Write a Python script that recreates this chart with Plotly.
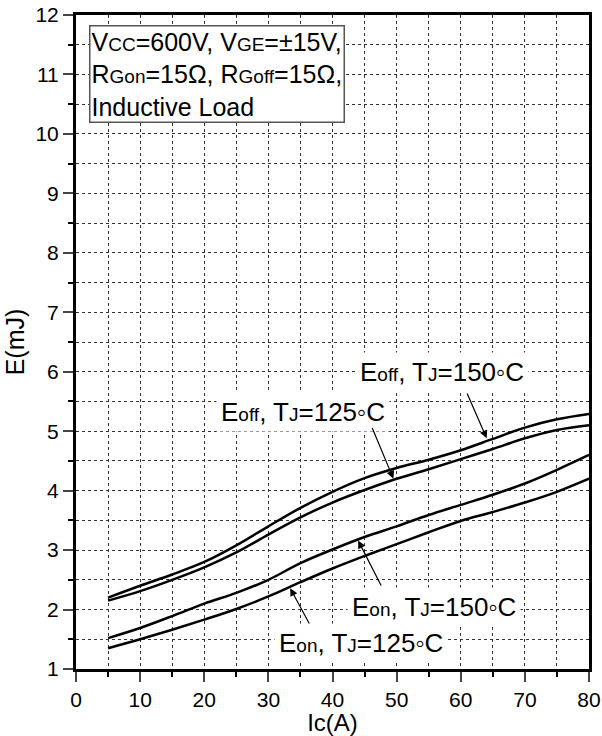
import plotly.graph_objects as go

# ---- data ----
ic = [5, 10, 15, 20, 25, 30, 35, 40, 45, 50, 55, 60, 65, 70, 75, 80]
eoff_150 = [2.20, 2.40, 2.59, 2.80, 3.08, 3.40, 3.71, 3.98, 4.21, 4.38, 4.52, 4.68, 4.87, 5.06, 5.20, 5.29]
eoff_125 = [2.15, 2.31, 2.50, 2.71, 2.96, 3.26, 3.55, 3.80, 4.01, 4.20, 4.36, 4.53, 4.70, 4.88, 5.02, 5.10]
eon_150 = [1.52, 1.69, 1.89, 2.10, 2.28, 2.50, 2.78, 3.01, 3.22, 3.40, 3.59, 3.76, 3.93, 4.12, 4.35, 4.60]
eon_125 = [1.35, 1.50, 1.66, 1.83, 2.01, 2.22, 2.46, 2.69, 2.90, 3.10, 3.30, 3.49, 3.64, 3.80, 3.98, 4.20]

x_ticks = [0, 10, 20, 30, 40, 50, 60, 70, 80]
y_ticks = [1, 2, 3, 4, 5, 6, 7, 8, 9, 10, 11, 12]

FONT = "Liberation Sans, Arial, sans-serif"

def small(t, size):
    return f'<span style="font-size:{size}px">{t}</span>'

fig = go.Figure()
for ys in [eoff_150, eoff_125, eon_150, eon_125]:
    fig.add_trace(go.Scatter(x=ic, y=ys, mode="lines", line=dict(color="black", width=2.5, shape="spline"),
                             showlegend=False, hoverinfo="skip"))

# labels: (text, x, y) and arrows: (x_from, y_from, x_to, y_to)
LS = 19
labels = [
    (f"E{small('off', LS)}, T{small('J', LS)}=150◦C", 57.1, 6.0),
    (f"E{small('off', LS)}, T{small('J', LS)}=125◦C", 35.4, 5.32),
    (f"E{small('on', LS)}, T{small('J', LS)}=150◦C", 55.8, 2.04),
    (f"E{small('on', LS)}, T{small('J', LS)}=125◦C", 44.4, 1.44),
]
arrows = [
    (60.9, 5.66, 64.05, 4.88),
    (46.1, 5.08, 49.5, 4.20),
    (47.7, 2.38, 44.0, 3.16),
    (36.5, 1.74, 33.4, 2.36),
]
for t, x, y in labels:
    fig.add_annotation(x=x, y=y, xref="x", yref="y", text=t, showarrow=False,
                       font=dict(family=FONT, size=26, color="black"), bgcolor="white", borderpad=4)
for x0, y0, x1, y1 in arrows:
    fig.add_annotation(x=x1, y=y1, ax=x0, ay=y0, xref="x", yref="y", axref="x", ayref="y",
                       text="", showarrow=True, arrowhead=2, arrowsize=1.3, arrowwidth=1.2, arrowcolor="black",
                       standoff=0, startstandoff=0)

BS = 19
box_text = (f"V{small('CC', BS)}=600V, V{small('GE', BS)}=±15V,<br>"
            f"R{small('Gon', BS)}=15Ω, R{small('Goff', BS)}=15Ω,<br>"
            "Inductive Load")
fig.add_annotation(x=0.0253, y=0.984, xref="paper", yref="paper", xanchor="left", yanchor="top",
                   text=box_text, showarrow=False, align="left",
                   font=dict(family=FONT, size=25, color="black"),
                   bgcolor="white", bordercolor="#555555", borderwidth=1.5, borderpad=1)

grid = dict(showgrid=True, gridcolor="#333333", griddash="dot", gridwidth=1)
minor_common = dict(ticks="outside", ticklen=5, tickwidth=2, tickcolor="black",
                    showgrid=True, gridcolor="#333333", griddash="dot", gridwidth=1)
fig.update_xaxes(range=[0, 80], tickvals=x_ticks, ticks="outside", ticklen=10, tickwidth=2,
                 showline=True, linewidth=3, linecolor="black", mirror=True, automargin=False,
                 tickfont=dict(family=FONT, size=21, color="black"),
                 title=dict(text="Ic(A)", font=dict(family=FONT, size=24, color="black"), standoff=4),
                 minor=dict(dtick=5, **minor_common),
                 zeroline=False, **grid)
fig.update_yaxes(range=[1, 12], tickvals=y_ticks, ticks="outside", ticklen=10, tickwidth=2,
                 showline=True, linewidth=3, linecolor="black", mirror=True, automargin=False,
                 tickfont=dict(family=FONT, size=21, color="black"),
                 title=dict(text="E(mJ)", font=dict(family=FONT, size=25, color="black"), standoff=4),
                 minor=dict(dtick=0.5, **minor_common),
                 zeroline=False, **grid)

fig.update_layout(width=602, height=736, margin=dict(l=76, r=13, t=15, b=67),
                  plot_bgcolor="white", paper_bgcolor="white",
                  font=dict(family=FONT, color="black"))

fig.write_html("out.html")
